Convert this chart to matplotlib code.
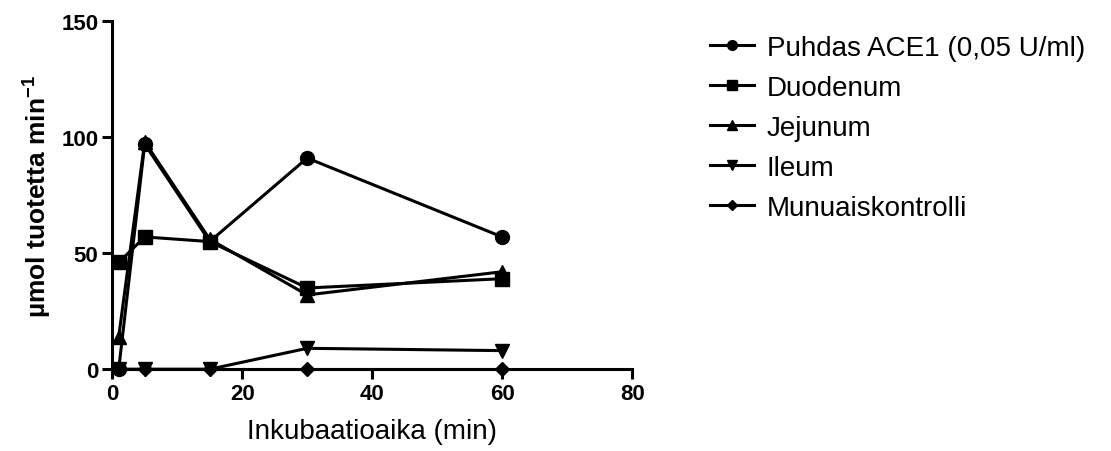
import matplotlib.pyplot as plt

plt.rcParams['font.family'] = ['Liberation Sans', 'DejaVu Sans']

# ── Data ──────────────────────────────────────────────────────────────────────
aika = [1, 5, 15, 30, 60]
puhdas = [0, 97, 55, 91, 57]
duodenum = [46, 57, 55, 35, 39]
jejunum = [14, 98, 56, 32, 42]
ileum = [0, 0, 0, 9, 8]
munuais = [0, 0, 0, 0, 0]

sarjat = [
    ('Puhdas ACE1 (0,05 U/ml)', puhdas, 'o', 10),
    ('Duodenum', duodenum, 's', 10),
    ('Jejunum', jejunum, '^', 10),
    ('Ileum', ileum, 'v', 10),
    ('Munuaiskontrolli', munuais, 'D', 7),
]

fig = plt.figure(figsize=(11.11, 4.52), dpi=100)
ax = fig.add_axes([0.101, 0.181, 0.468, 0.770])

for nimi, arvot, merkki, koko in sarjat:
    ax.plot(aika, arvot, color='black', linewidth=2.2, marker=merkki,
            markersize=koko, label=nimi, clip_on=False, zorder=3)

ax.set_xlim(0, 80)
ax.set_ylim(0, 150)
ax.set_xticks([0, 20, 40, 60, 80])
ax.set_yticks([0, 50, 100, 150])
for s in ['top', 'right']:
    ax.spines[s].set_visible(False)
for s in ['left', 'bottom']:
    ax.spines[s].set_linewidth(2.2)
ax.tick_params(width=2.2, length=7, labelsize=16, pad=3)
for lab in ax.get_xticklabels() + ax.get_yticklabels():
    lab.set_fontweight('bold')

ax.set_xlabel('Inkubaatioaika (min)', fontsize=20, labelpad=10)
ax.set_ylabel('µmol tuotetta min$^{\\mathregular{-1}}$', fontsize=19,
              fontweight='bold', labelpad=6)

fig.legend(loc='upper left', bbox_to_anchor=(710 / 1111, 1 - 36 / 452),
           frameon=False, fontsize=20, handlelength=1.6, handletextpad=0.45,
           labelspacing=0.5, markerscale=0.7, borderpad=0, borderaxespad=0)

fig.savefig('out.png', dpi=100)
